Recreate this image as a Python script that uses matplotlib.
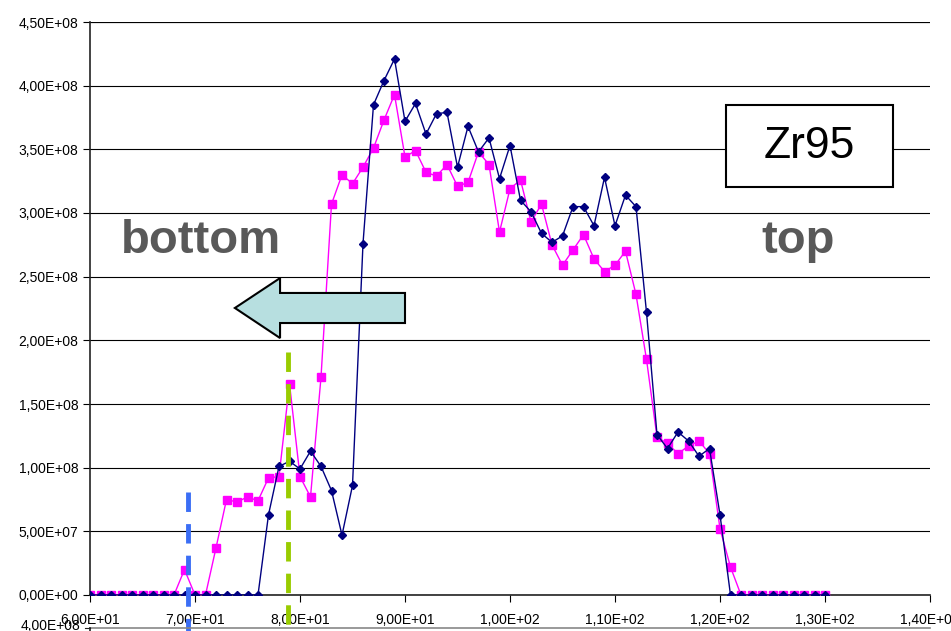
from matplotlib import use
use('Agg')
import matplotlib.pyplot as plt
from matplotlib.patches import Polygon, Rectangle
from matplotlib.lines import Line2D
from matplotlib.ticker import FuncFormatter, MultipleLocator

plt.rcParams['font.family'] = ['Liberation Sans', 'DejaVu Sans']

# position (60..130, step 1)
x = list(range(60, 131))

# navy series (diamonds)
navy = [0]*17 + [
    6.3e7, 1.01e8, 1.05e8, 0.99e8, 1.13e8, 1.01e8, 0.82e8, 0.47e8, 0.86e8,
    2.76e8, 3.85e8, 4.04e8, 4.21e8, 3.72e8, 3.86e8, 3.62e8, 3.78e8, 3.79e8,
    3.36e8, 3.68e8, 3.48e8, 3.59e8, 3.27e8, 3.53e8, 3.10e8, 3.01e8, 2.84e8,
    2.77e8, 2.82e8, 3.05e8, 3.05e8, 2.90e8, 3.28e8, 2.90e8, 3.14e8, 3.05e8,
    2.22e8, 1.26e8, 1.15e8, 1.28e8, 1.21e8, 1.09e8, 1.15e8, 6.3e7,
] + [0]*10

# magenta series (squares)
magenta = [0]*9 + [
    2.0e7, 0, 0, 3.7e7, 7.5e7, 7.3e7, 7.7e7, 7.4e7, 9.2e7, 9.3e7, 1.66e8,
    9.3e7, 7.7e7, 1.71e8, 3.07e8, 3.30e8, 3.23e8, 3.36e8, 3.51e8, 3.73e8,
    3.93e8, 3.44e8, 3.49e8, 3.32e8, 3.29e8, 3.38e8, 3.21e8, 3.24e8, 3.48e8,
    3.38e8, 2.85e8, 3.19e8, 3.26e8, 2.93e8, 3.07e8, 2.75e8, 2.59e8, 2.71e8,
    2.83e8, 2.64e8, 2.54e8, 2.59e8, 2.70e8, 2.36e8, 1.85e8, 1.24e8, 1.19e8,
    1.11e8, 1.17e8, 1.21e8, 1.11e8, 5.2e7, 2.2e7,
] + [0]*9

blue_mark = 69.3
green_mark = 78.9

fig = plt.figure(figsize=(9.51, 6.31), dpi=100)
ax = fig.add_axes([90/951, 1 - 595/631, 840/951, 573/631])

ax.plot(x, magenta, color='#ff00ff', marker='s', markersize=6, lw=1, zorder=3)
ax.plot(x, navy, color='#000080', marker='D', markersize=4.5, lw=1, zorder=4)

ax.set_xlim(60, 140)
ax.set_ylim(0, 4.5e8)
ax.xaxis.set_major_locator(MultipleLocator(10))
ax.yaxis.set_major_locator(MultipleLocator(5e7))
fmt = FuncFormatter(lambda v, p: ('%.2E' % v).replace('.', ','))
ax.xaxis.set_major_formatter(fmt)
ax.yaxis.set_major_formatter(fmt)
ax.tick_params(labelsize=10, length=5, width=0.8, direction='out')
ax.tick_params(axis='x', pad=8)
ax.grid(axis='y', color='k', lw=0.8)
ax.set_axisbelow(True)
for s in ['top', 'right']:
    ax.spines[s].set_visible(False)
for s in ['left', 'bottom']:
    ax.spines[s].set_color('#222222')
    ax.spines[s].set_linewidth(1.2)
ax.axhline(4.5e8, color='k', lw=0.8)

# marker lines
ax.plot([blue_mark, blue_mark], [8.1e7, -0.35e8], color='#3b6ef5', lw=3.5,
        ls=(0, (4, 2.5)), clip_on=False, zorder=5)
ax.plot([green_mark, green_mark], [1.91e8, -0.35e8], color='#99cc00', lw=3.5,
        ls=(0, (4, 2.5)), clip_on=False, zorder=5)

# labels
ax.text(70.6, 2.78e8, 'bottom', fontsize=34, fontweight='bold', color='#595959',
        ha='center', va='center')
ax.text(127.4, 2.78e8, 'top', fontsize=34, fontweight='bold', color='#595959',
        ha='center', va='center')
ax.add_patch(Rectangle((120.6, 3.205e8), 15.9, 0.645e8, fc='white', ec='k',
                       lw=1.5, zorder=6))
ax.text(128.5, 3.52e8, 'Zr95', fontsize=32, color='k', ha='center',
        va='center', zorder=7)

# arrow pointing left
arrow = Polygon([(73.8, 2.254e8), (78.1, 2.489e8), (78.1, 2.372e8),
                 (90.0, 2.372e8), (90.0, 2.136e8), (78.1, 2.136e8),
                 (78.1, 2.018e8)], closed=True, fc='#b7dfe0', ec='k', lw=1.5,
                zorder=6)
ax.add_patch(arrow)

# top of the next chart, cut off at the bottom edge
fig.add_artist(Line2D([90/951, 930/951], [1 - 628/631, 1 - 628/631],
                      color='#888888', lw=1.2))
fig.add_artist(Line2D([90/951, 90/951], [0, 1 - 628/631], color='#222222', lw=1.2))
fig.add_artist(Line2D([85/951, 90/951], [1 - 628/631, 1 - 628/631], color='#222222', lw=0.8))
fig.text(80/951, 1 - 626/631, '4,00E+08', fontsize=10, ha='right', va='center')

plt.savefig('out.png', dpi=100)
